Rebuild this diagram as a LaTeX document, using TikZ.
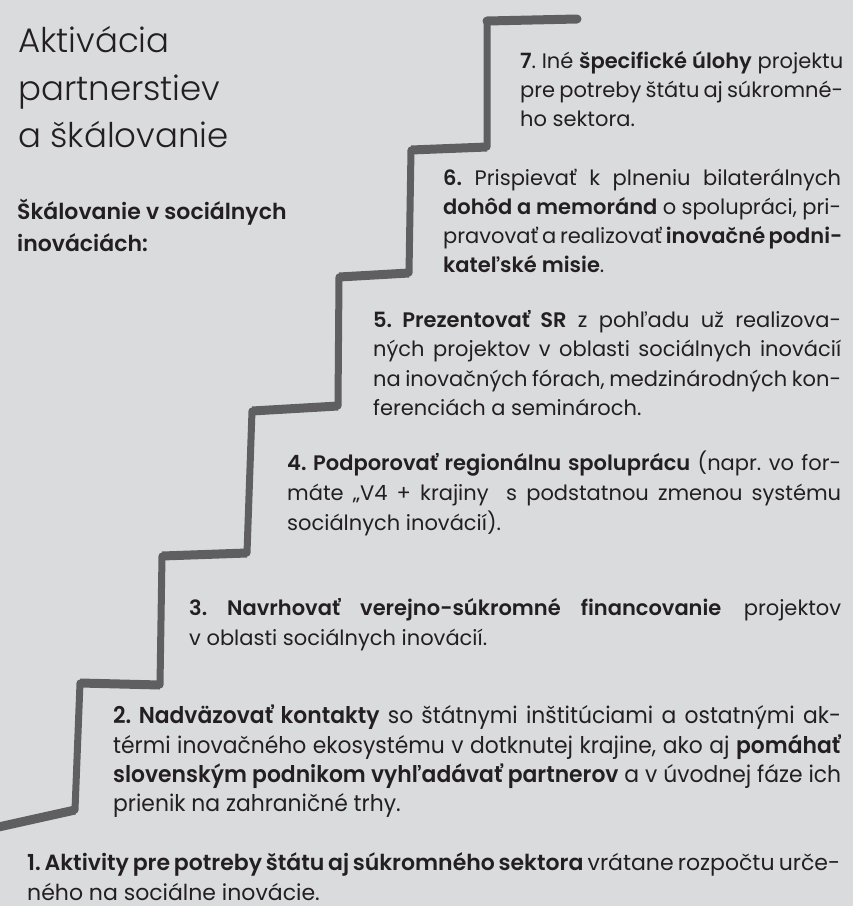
\documentclass[tikz,border=0pt]{standalone}
\usepackage{fontspec}
\setmainfont{Poppins}[BoldFont={Poppins SemiBold}]
\newfontfamily\narrowfont{Poppins}[FakeStretch=0.95, BoldFont={Poppins SemiBold}]
\newfontfamily\titlefont{Poppins Light}
\definecolor{bg}{HTML}{DADBDD}
\definecolor{stair}{HTML}{5F5F61}
\definecolor{ink}{HTML}{231F20}
\newcommand\J[2]{\makebox[#1pt][s]{#2}}
\frenchspacing
\begin{document}
\begin{tikzpicture}[x=1pt,y=-1pt,
  txt/.style={inner sep=0pt, anchor=base west, text=ink, font=\fontsize{21}{29}\selectfont},
  ntxt/.style={txt, font=\fontsize{23}{29}\narrowfont},
  btxt/.style={txt, font=\fontsize{22}{29}\selectfont},
  ttl/.style={inner sep=0pt, anchor=base west, text=ink, font=\fontsize{34}{47}\titlefont},
  sub/.style={inner sep=0pt, anchor=base west, text=ink, font=\fontsize{22}{32}\selectfont\bfseries},
  stairline/.style={draw=stair, line width=7pt, line join=round, line cap=round},
  tread/.style={draw=stair, line width=9pt, line cap=butt}]
\fill[bg] (0,0) rectangle (853,906);
\useasboundingbox (0,0) rectangle (853,906);

% staircase
\coordinate (p0) at (577,19);
\coordinate (p1) at (487,21);
\coordinate (p2) at (487,147);
\coordinate (p3) at (411,150);
\coordinate (p4) at (409,273);
\coordinate (p5) at (339,277);
\coordinate (p6) at (338,406);
\coordinate (p7) at (252,411);
\coordinate (p8) at (247,553);
\coordinate (p9) at (162,556);
\coordinate (p10) at (160,685);
\coordinate (p11) at (80,683);
\coordinate (p12) at (75,810);
\coordinate (p13) at (-6,828);
\draw[stairline] (p0) -- (p1) -- (p2) -- (p3) -- (p4) -- (p5) -- (p6) -- (p7) -- (p8) -- (p9) -- (p10) -- (p11) -- (p12) -- (p13);
\draw[tread, line cap=round] (p0) -- (p1);
\draw[tread] (p2) -- (p3);
\draw[tread] (p4) -- (p5);
\draw[tread] (p6) -- (p7);
\draw[tread] (p8) -- (p9);
\draw[tread] (p10) -- (p11);
\draw[tread] (p12) -- (p13);

% title
\node[ttl] (t1) at (18,52) {Aktivácia};
\node[ttl] (t2) at (18,100) {partnerstiev};
\node[ttl] (t3) at (18,147) {a škálovanie};
\node[sub] (st1) at (17,219) {Škálovanie v sociálnych};
\node[sub] (st2) at (17,251) {inováciách:};

% step 7
\node[txt] (s7a) at (520,68) {\J{323}{\textbf{7}. Iné \textbf{špecifické úlohy} projektu}};
\node[txt] (s7b) at (520,97) {\J{323}{pre potreby štátu aj súkromné-}};
\node[txt] (s7c) at (520,126) {ho sektora.};

% step 6
\node[txt] (s6a) at (443,185) {\J{398}{\textbf{6.} Prispievať k plneniu bilaterálnych}};
\node[txt] (s6b) at (443,214) {\J{398}{\textbf{dohôd a memoránd} o spolupráci, pri-}};
\node[txt] (s6c) at (443,243) {\J{398}{pravovať a realizovať \textbf{inovačné podni-}}};
\node[txt] (s6d) at (443,272) {\textbf{kateľské misie}.};

% step 5
\node[txt] (s5a) at (373,327) {\J{468}{\textbf{5. Prezentovať SR} z pohľadu už realizova-}};
\node[txt] (s5b) at (373,356) {\J{468}{ných projektov v oblasti sociálnych inovácií}};
\node[txt] (s5c) at (373,386) {\J{468}{na inovačných fórach, medzinárodných kon-}};
\node[txt] (s5d) at (373,415) {ferenciách a seminároch.};

% step 4
\node[txt] (s4a) at (287,470) {\J{554}{\textbf{4. Podporovať regionálnu spoluprácu} (napr. vo for-}};
\node[txt] (s4b) at (287,500) {\J{554}{máte „V4 + krajiny\hspace{0.4em} s podstatnou zmenou systému}};
\node[txt] (s4c) at (287,530) {sociálnych inovácií).};

% step 3
\node[txt] (s3a) at (189,615) {\J{652}{\textbf{3. Navrhovať verejno-súkromné financovanie} projektov}};
\node[txt] (s3b) at (189,645) {v oblasti sociálnych inovácií.};

% step 2
\node[ntxt] (s2a) at (113,723) {\J{728}{\textbf{2. Nadväzovať kontakty} so štátnymi inštitúciami a ostatnými ak-}};
\node[ntxt] (s2b) at (113,753) {\J{728}{térmi inovačného ekosystému v dotknutej krajine, ako aj \textbf{pomáhať}}};
\node[ntxt] (s2c) at (113,782) {\J{728}{\textbf{slovenským podnikom vyhľadávať partnerov} a v úvodnej fáze ich}};
\node[ntxt] (s2d) at (113,811) {prienik na zahraničné trhy.};

% step 1
\node[btxt] (s1a) at (27,870) {\J{813}{\textbf{1. Aktivity pre potreby štátu aj súkromného sektora} vrátane rozpočtu urče-}};
\node[btxt] (s1b) at (27,900) {ného na sociálne inovácie.};
\end{tikzpicture}
\end{document}
